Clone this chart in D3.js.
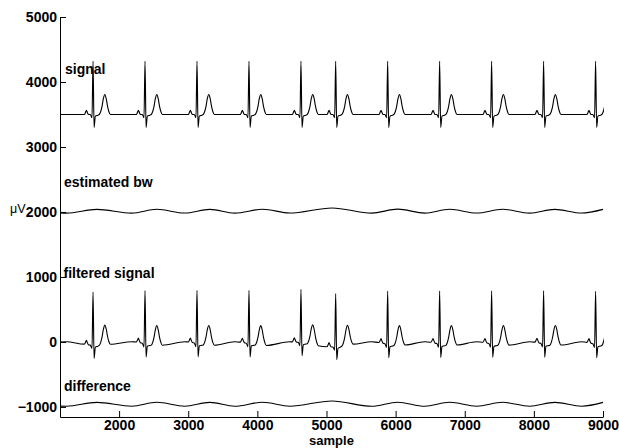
<!DOCTYPE html>
<html>
<head>
<meta charset="utf-8">
<script src="https://cdn.jsdelivr.net/npm/d3@7"></script>
<style>
  html, body { margin: 0; padding: 0; background: #fff; }
  svg { display: block; }
  .tick text { font-family: "Liberation Sans", Arial, sans-serif; font-weight: bold; font-size: 14px; fill: #000; }
  .lbl { font-family: "Liberation Sans", Arial, sans-serif; font-weight: bold; font-size: 14px; fill: #000; }
</style>
</head>
<body>
<svg id="chart" width="619" height="448"></svg>
<script>
// ---- data ----
const xTicks = [2000, 3000, 4000, 5000, 6000, 7000, 8000, 9000];
const yTicks = [-1000, 0, 1000, 2000, 3000, 4000, 5000];
const seriesLabels = ["signal", "estimated bw", "filtered signal", "difference"];

// R-peak sample positions of each beat
const rPeaks = [1623, 2375, 3127, 3879, 4631, 5133, 5885, 6637, 7389, 8141, 8893];
// beat shape: offsets from R peak (samples) and amplitudes (µV above baseline)
const beatOffsets = [-126, -110, -96, -82, -66, -40, -15, 0, 15, 34, 70, 90, 110, 130, 150, 170, 190, 210, 230, 250];
const beatAmps    = [0, 30, 65, 30, 0, 0, -50, 820, -200, -25, -10, 0, 42, 126, 246, 308, 246, 126, 42, 0];
const signalBaseline = 3500;

// slow wave extrema (samples)
const waveX      = [1145, 1240, 1677, 2183, 2545, 2950, 3312, 3673, 4078, 4468, 5080, 5654, 6030, 6421, 6782, 7173, 7549, 7939, 8301, 8691, 9000];
const bwValues   = [1985, 1982, 2040, 1982, 2041, 1983, 2040, 1982, 2042, 1983, 2062, 1982, 2043, 1982, 2041, 1983, 2041, 1982, 2040, 1983, 2040];
const diffValues = [-988, -990, -930, -990, -929, -989, -930, -990, -928, -989, -908, -990, -928, -990, -929, -989, -929, -990, -930, -989, -930];
const filteredBase = [0, 3, -55, 3, -56, 2, -55, 3, -57, 2, -77, 3, -58, 3, -56, 2, -56, 3, -55, 2, -55];

// ---- chart ----
const svg = d3.select("#chart");
const x = d3.scaleLinear().domain([1145, 9000]).range([60, 603]);
const y = d3.scaleLinear().domain([-1155, 5000]).range([417, 17]);

svg.append("defs").append("clipPath").attr("id", "clip")
  .append("rect").attr("x", x(1145)).attr("y", 0).attr("width", x(9000) - x(1145) + 1).attr("height", 448);

function cosAt(xs, ys, v) {
  if (v <= xs[0]) return ys[0];
  if (v >= xs[xs.length - 1]) return ys[ys.length - 1];
  let i = 0;
  while (xs[i + 1] < v) i++;
  const t = (v - xs[i]) / (xs[i + 1] - xs[i]);
  return ys[i] + (ys[i + 1] - ys[i]) * (1 - Math.cos(Math.PI * t)) / 2;
}

// signal: flat baseline plus beats
const signalPts = [[1145, signalBaseline]];
rPeaks.forEach(r => beatOffsets.forEach((o, i) => signalPts.push([r + o, signalBaseline + beatAmps[i]])));

// filtered signal: beats on top of the residual slow wave
const inBeat = v => rPeaks.some(r => v >= r - 140 && v <= r + 260);
const filtPts = [];
waveX.forEach((wx, i) => { if (!inBeat(wx)) filtPts.push([wx, filteredBase[i]]); });
rPeaks.forEach(r => beatOffsets.forEach((o, i) => filtPts.push([r + o, beatAmps[i] + cosAt(waveX, filteredBase, r + o)])));
filtPts.sort((a, b) => a[0] - b[0]);

const bwPts = waveX.map((v, i) => [v, bwValues[i]]);
const diffPts = waveX.map((v, i) => [v, diffValues[i]]);

const line = d3.line().x(d => x(d[0])).y(d => y(d[1])).curve(d3.curveMonotoneX);
const g = svg.append("g").attr("clip-path", "url(#clip)");
[signalPts, bwPts, filtPts, diffPts].forEach(pts => {
  g.append("path").attr("d", line(pts)).attr("fill", "none").attr("stroke", "#000").attr("stroke-width", 1.1);
});

// axes
const yAxis = svg.append("g").attr("transform", `translate(${x(1145)},0)`)
  .call(d3.axisLeft(y).tickValues(yTicks).tickFormat(d3.format("d")).tickSize(-6).tickSizeOuter(0).tickPadding(3));
const xAxis = svg.append("g").attr("transform", `translate(0,${y(-1155)})`)
  .call(d3.axisBottom(x).tickValues(xTicks).tickFormat(d3.format("d")).tickSize(-6).tickSizeOuter(0).tickPadding(3));
[yAxis, xAxis].forEach(a => { a.selectAll("path,line").attr("stroke", "#000"); });

// series labels
const labelPos = [[65, 73.5], [64, 186.7], [63.5, 277.5], [64, 390.7]];
seriesLabels.forEach((t, i) => {
  svg.append("text").attr("class", "lbl").attr("x", labelPos[i][0]).attr("y", labelPos[i][1]).text(t);
});

// axis titles
svg.append("text").attr("class", "lbl").attr("x", (x(1145) + x(9000)) / 2).attr("y", 445)
  .style("font-size", "13px").attr("text-anchor", "middle").text("sample");
svg.append("text").attr("x", 10).attr("y", 213)
  .style("font-family", '"Liberation Sans", Arial, sans-serif').style("font-size", "12.5px").style("fill", "#000")
  .text("μV");
</script>
</body>
</html>
